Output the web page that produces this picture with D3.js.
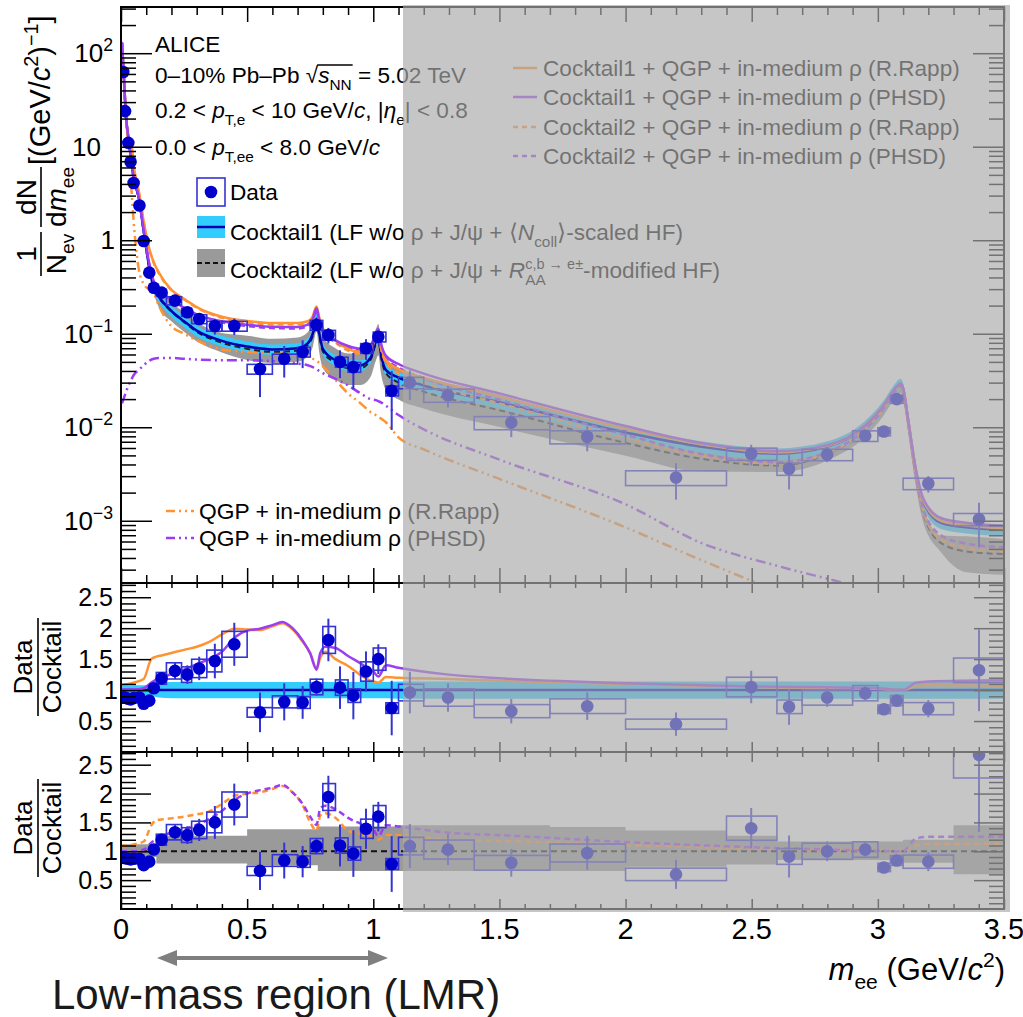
<!DOCTYPE html>
<html>
<head>
<meta charset="utf-8">
<script src="https://cdn.jsdelivr.net/npm/d3@7"></script>
<style>
  body { margin: 0; background: #fff; }
  svg { display: block; font-family: "Liberation Sans", Arial, Helvetica, sans-serif; }
</style>
</head>
<body>
<svg id="chart" width="1023" height="1017"></svg>
<script>
// ---- measured points (mass bins in GeV/c^2) ----
var binEdges = [0, 0.01, 0.02, 0.03, 0.04, 0.06, 0.08, 0.1, 0.12, 0.14, 0.18, 0.24, 0.28, 0.34, 0.4, 0.5, 0.6, 0.7, 0.75, 0.8,
  0.85, 0.9, 0.95, 1.0, 1.05, 1.1, 1.2, 1.4, 1.7, 2.0, 2.4, 2.6, 2.7, 2.9, 3.0, 3.05, 3.1, 3.3, 3.5];
var dataMass = [0.009, 0.016, 0.029, 0.038, 0.05, 0.073, 0.09, 0.112, 0.13, 0.161, 0.214, 0.263, 0.31, 0.372, 0.449, 0.551,
  0.647, 0.72, 0.775, 0.822, 0.868, 0.921, 0.971, 1.02, 1.073, 1.145, 1.296, 1.547, 1.848, 2.2, 2.498, 2.648, 2.799, 2.95,
  3.024, 3.075, 3.2, 3.401];
var dataYield = [63, 24, 11, 6.9, 4.1, 2.35, 0.98, 0.45, 0.31, 0.275, 0.226, 0.17, 0.144, 0.121, 0.121, 0.042, 0.054, 0.064,
  0.124, 0.097, 0.05, 0.044, 0.07, 0.093, 0.0246, 0.03, 0.022, 0.0112, 0.0079, 0.0029, 0.0052, 0.0036, 0.0051, 0.0081,
  0.009, 0.02, 0.0025, 0.00104];
var ratioCocktail1 = [0.88, 0.88, 0.86, 0.85, 0.87, 0.88, 0.78, 0.83, 1.03, 1.19, 1.31, 1.25, 1.35, 1.47, 1.74, 0.64, 0.81,
  0.80, 1.05, 1.81, 1.04, 0.91, 1.30, 1.50, 0.71, 0.96, 0.88, 0.66, 0.74, 0.45, 1.05, 0.73, 0.88, 0.95, 0.69, 0.83, 0.70, 1.32];
var ratioCocktail2 = [0.89, 0.88, 0.87, 0.86, 0.87, 0.87, 0.76, 0.82, 1.03, 1.2, 1.33, 1.28, 1.37, 1.5, 1.81, 0.66, 0.84,
  0.82, 1.09, 1.94, 1.10, 0.96, 1.39, 1.60, 0.78, 1.09, 1.03, 0.80, 0.97, 0.60, 1.40, 0.91, 1.0, 1.03, 0.72, 0.84, 0.82, 2.67];
var statRel = [0.02, 0.02, 0.02, 0.02, 0.02, 0.03, 0.04, 0.05, 0.06, 0.08, 0.1, 0.12, 0.14, 0.19, 0.2, 0.5, 0.37, 0.33, 0.13,
  0.19, 0.33, 0.42, 0.25, 0.16, 0.62, 0.35, 0.26, 0.3, 0.3, 0.42, 0.25, 0.4, 0.17, 0.12, 0.06, 0.05, 0.2, 0.5];
var sysRel = [0.04, 0.04, 0.04, 0.04, 0.04, 0.05, 0.05, 0.06, 0.07, 0.08, 0.1, 0.1, 0.11, 0.12, 0.12, 0.12, 0.12, 0.12, 0.12,
  0.12, 0.12, 0.12, 0.12, 0.12, 0.12, 0.14, 0.16, 0.16, 0.16, 0.18, 0.15, 0.15, 0.14, 0.13, 0.1, 0.1, 0.14, 0.15];

// ---- cocktail and model curves (top panel) ----
var curveMass = [0.004, 0.01, 0.02, 0.03, 0.04, 0.05, 0.07, 0.09, 0.11, 0.13, 0.15, 0.2, 0.25, 0.3, 0.4, 0.5, 0.6, 0.7, 0.74,
  0.76, 0.775, 0.785, 0.8, 0.85, 0.9, 0.95, 0.99, 1.01, 1.02, 1.03, 1.05, 1.1, 1.2, 1.5, 2.0, 2.3, 2.6, 2.8, 2.95, 3.02,
  3.06, 3.09, 3.1, 3.12, 3.15, 3.18, 3.25, 3.35, 3.5];
var cocktail1 = [130, 65, 21, 12, 7.3, 4.7, 2.9, 1.25, 0.55, 0.31, 0.25, 0.175, 0.136, 0.108, 0.084, 0.073, 0.068, 0.07,
  0.079, 0.1, 0.145, 0.104, 0.069, 0.052, 0.046, 0.046, 0.056, 0.082, 0.094, 0.062, 0.041, 0.034, 0.028, 0.0185, 0.0088,
  0.0062, 0.0052, 0.0062, 0.0103, 0.0165, 0.024, 0.029, 0.026, 0.012, 0.0035, 0.0016, 0.00095, 0.00085, 0.0008];
var cocktail1Err = [0.08, 0.08, 0.08, 0.08, 0.08, 0.08, 0.08, 0.08, 0.09, 0.1, 0.12, 0.13, 0.13, 0.13, 0.13, 0.13, 0.13,
  0.13, 0.13, 0.13, 0.13, 0.13, 0.13, 0.13, 0.13, 0.13, 0.13, 0.13, 0.13, 0.13, 0.13, 0.14, 0.14, 0.14, 0.14, 0.14, 0.14,
  0.14, 0.14, 0.14, 0.14, 0.14, 0.14, 0.14, 0.14, 0.14, 0.14, 0.14, 0.14];
var cocktail2 = [127, 64, 20.6, 11.8, 7.1, 4.6, 2.83, 1.22, 0.535, 0.30, 0.243, 0.172, 0.133, 0.105, 0.080, 0.069, 0.064,
  0.066, 0.075, 0.095, 0.139, 0.099, 0.065, 0.049, 0.043, 0.043, 0.053, 0.078, 0.089, 0.058, 0.038, 0.030, 0.024, 0.0152,
  0.0068, 0.0046, 0.0039, 0.0052, 0.0093, 0.0153, 0.0225, 0.0275, 0.0245, 0.011, 0.003, 0.0012, 0.00058, 0.00047, 0.00044];
var qgpRapp = [null, null, null, null, 4.0, 1.6, 0.5, 0.34, 0.3, 0.27, 0.2, 0.12, 0.1, 0.085, 0.068, 0.064, 0.062, 0.06,
  0.057, 0.054, 0.051, 0.049, 0.045, 0.032, 0.023, 0.018, 0.0145, 0.0135, 0.013, 0.0124, 0.0113, 0.0078, 0.0058, 0.0028,
  0.00085, 0.00038, 0.00018, 0.00012, 0.00009, 0.00008, 0.00007, 0.00007, 0.00007, 0.00007, 0.00006, 0.00006, 0.00005,
  0.00004, 0.00003];
var qgpPhsd = [0.018, 0.02, 0.024, 0.028, 0.032, 0.036, 0.041, 0.046, 0.051, 0.054, 0.055, 0.055, 0.054, 0.053, 0.052,
  0.052, 0.051, 0.048, 0.046, 0.044, 0.042, 0.04, 0.038, 0.033, 0.028, 0.023, 0.02, 0.0195, 0.019, 0.0185, 0.017, 0.0135,
  0.0095, 0.0045, 0.0015, 0.00058, 0.00033, 0.00024, 0.00019, 0.00017, 0.00016, 0.00015, 0.00015, 0.00015, 0.00014,
  0.00013, 0.00012, 0.0001, 0.00008];
// cocktail2 uncertainty (relative), given per mass interval
var band2Edges = [0, 0.14, 0.5, 0.78, 1.1, 1.7, 2.0, 2.4, 2.6, 3.1, 3.3, 3.5];
var band2Lo = [0.9, 0.79, 0.76, 0.66, 0.66, 0.66, 0.73, 0.77, 0.85, 0.8, 0.6];
var band2Hi = [1.12, 1.27, 1.38, 1.43, 1.45, 1.42, 1.36, 1.27, 1.17, 1.2, 1.45];

// ---- model / cocktail ratios ----
var ratioMass = [0, 0.05, 0.09, 0.12, 0.14, 0.16, 0.2, 0.25, 0.3, 0.35, 0.4, 0.45, 0.5, 0.55, 0.6, 0.64, 0.68, 0.72, 0.75,
  0.775, 0.79, 0.81, 0.85, 0.9, 0.95, 0.98, 1.0, 1.02, 1.05, 1.1, 1.3, 1.5, 2.0, 2.5, 3.0, 3.1, 3.15, 3.2, 3.5];
var ratio1Rapp = [1.08, 1.12, 1.18, 1.5, 1.54, 1.56, 1.6, 1.65, 1.7, 1.78, 1.9, 1.99, 1.98, 1.97, 2.03, 2.08, 1.98, 1.78,
  1.6, 1.35, 1.52, 1.62, 1.5, 1.39, 1.24, 1.17, 1.14, 1.12, 1.21, 1.2, 1.18, 1.15, 1.1, 1.05, 1.02, 1.0, 1.06, 1.08, 1.07];
var ratio1Phsd = [1.01, 1.01, 1.03, 1.12, 1.17, 1.2, 1.26, 1.33, 1.42, 1.5, 1.62, 1.85, 1.96, 1.99, 2.05, 2.1, 2.0, 1.8,
  1.59, 1.33, 1.6, 1.7, 1.68, 1.55, 1.43, 1.35, 1.3, 1.22, 1.4, 1.36, 1.25, 1.19, 1.11, 1.06, 1.03, 1.0, 1.12, 1.14, 1.16];
var ratio2Rapp = [1.09, 1.12, 1.17, 1.45, 1.54, 1.55, 1.57, 1.6, 1.64, 1.69, 1.82, 1.96, 2.0, 2.02, 2.08, 2.13, 2.02, 1.8,
  1.5, 1.36, 1.62, 1.66, 1.58, 1.36, 1.3, 1.28, 1.25, 1.2, 1.28, 1.28, 1.2, 1.18, 1.11, 1.05, 1.02, 1.01, 1.1, 1.13, 1.13];
var ratio2Phsd = [1.0, 1.0, 1.03, 1.15, 1.21, 1.26, 1.32, 1.38, 1.46, 1.56, 1.7, 1.89, 2.0, 2.06, 2.1, 2.15, 2.02, 1.82,
  1.6, 1.46, 1.75, 1.79, 1.73, 1.58, 1.48, 1.44, 1.38, 1.26, 1.45, 1.43, 1.32, 1.28, 1.16, 1.07, 1.01, 1.0, 1.22, 1.25, 1.25];

// ---- axis tick labels ----
var xTickLabels = ['0', '0.5', '1', '1.5', '2', '2.5', '3', '3.5'];
var ratioTickLabels = ['0.5', '1', '1.5', '2', '2.5'];
var logExponents = [-3, -2, -1, 0, 1, 2];

var col = {
  data: '#0000cd', box: '#3434d4', blue: '#0000b0', cyan: '#33ccff', gray: '#9a9a9a',
  orange: '#ff9233', purple: '#9b3df2'
};
var X0 = 121, X1 = 1004;
var svg = d3.select('#chart');

var x = d3.scaleLinear().domain([0, 3.5]).range([X0, X1]);
var yTop = d3.scaleLog().domain([2.16e-4, 312]).range([583, 7]);
var yR1 = d3.scaleLinear().domain([0, 2.73]).range([752, 583]);
var yR2 = d3.scaleLinear().domain([0, 2.72]).range([909, 752]);

var defs = svg.append('defs');
function clip(id, y) {
  defs.append('clipPath').attr('id', id).append('rect')
    .attr('x', X0).attr('y', y.range()[1]).attr('width', X1 - X0).attr('height', y.range()[0] - y.range()[1]);
}
clip('cTop', yTop); clip('cR1', yR1); clip('cR2', yR2);

// rich text helper: parts are strings or {t, i, sub, sup}
function rich(sel, px, py, size, parts, anchor, fill) {
  var t = sel.append('text').attr('x', px).attr('y', py).attr('font-size', size)
    .attr('text-anchor', anchor || 'start').attr('fill', fill || '#000');
  var cur = 0, spans = [];
  parts.forEach(function(p) {
    var o = typeof p === 'string' ? {t: p} : p;
    var off = 0, fs = size;
    if (o.sub) { off = size * 0.3; fs = size * 0.68; }
    if (o.sup) { off = -size * 0.42; fs = size * 0.68; }
    var ts = t.append('tspan').attr('dy', off - cur).attr('font-size', fs).text(o.t);
    if (o.i) ts.attr('font-style', 'italic');
    cur = off;
    spans.push(ts);
  });
  return spans;
}

function pts(xs, ys) { return xs.map(function(m, i) { return [m, ys[i]]; }); }
function bandAt(m) {
  return Math.min(band2Lo.length - 1, Math.max(0, d3.bisectRight(band2Edges, m) - 1));
}

// ================= top panel =================
var gTop = svg.append('g').attr('clip-path', 'url(#cTop)');
var areaTop = d3.area().x(function(d) { return x(d[0]); })
  .y0(function(d) { return yTop(d[1]); }).y1(function(d) { return yTop(d[2]); }).curve(d3.curveMonotoneX);
var lineTop = d3.line().defined(function(d) { return d[1] != null && d[1] > 0; })
  .x(function(d) { return x(d[0]); }).y(function(d) { return yTop(d[1]); }).curve(d3.curveMonotoneX);

gTop.append('path')
  .attr('d', areaTop(curveMass.map(function(m, i) {
    var k = bandAt(m);
    return [m, cocktail2[i] * band2Lo[k], cocktail2[i] * band2Hi[k]];
  })))
  .attr('fill', col.gray);
gTop.append('path')
  .attr('d', areaTop(curveMass.map(function(m, i) {
    return [m, cocktail1[i] * (1 - cocktail1Err[i]), cocktail1[i] * (1 + cocktail1Err[i])];
  })))
  .attr('fill', col.cyan);

function sumWith(base, add) {
  return base.map(function(v, i) { return v + (add[i] || 0); });
}
var topLines = [
  {v: qgpRapp, c: col.orange, dash: '10,4,2,4,2,4'},
  {v: qgpPhsd, c: col.purple, dash: '10,4,2,4,2,4'},
  {v: cocktail2, c: '#222', dash: '6,4', w: 2},
  {v: cocktail1, c: col.blue},
  {v: sumWith(cocktail2, qgpRapp), c: col.orange, dash: '6,4'},
  {v: sumWith(cocktail2, qgpPhsd), c: col.purple, dash: '6,4'},
  {v: sumWith(cocktail1, qgpRapp), c: col.orange},
  {v: sumWith(cocktail1, qgpPhsd), c: col.purple}
];
topLines.forEach(function(l) {
  gTop.append('path').attr('d', lineTop(pts(curveMass, l.v)))
    .attr('fill', 'none').attr('stroke', l.c).attr('stroke-width', l.w || 2.5)
    .attr('stroke-dasharray', l.dash || null);
});

function drawData(g, y, vals) {
  var lo = y.domain()[0];
  var boxes = g.append('g'), bars = g.append('g'), dots = g.append('g');
  vals.forEach(function(v, i) {
    var s = sysRel[i], e = statRel[i];
    boxes.append('rect')
      .attr('x', x(binEdges[i])).attr('width', x(binEdges[i + 1]) - x(binEdges[i]))
      .attr('y', y(v * (1 + s))).attr('height', y(v * (1 - s)) - y(v * (1 + s)))
      .attr('fill', 'none').attr('stroke', col.box).attr('stroke-width', 1.6);
    bars.append('line')
      .attr('x1', x(dataMass[i])).attr('x2', x(dataMass[i]))
      .attr('y1', y(v * (1 + e))).attr('y2', y(Math.max(v * (1 - e), lo > 0 ? lo : 0)))
      .attr('stroke', col.box).attr('stroke-width', 2);
  });
  dots.selectAll('circle').data(vals).join('circle')
    .attr('cx', function(d, i) { return x(dataMass[i]); })
    .attr('cy', function(d) { return y(d); })
    .attr('r', 6.3).attr('fill', col.data);
}
drawData(svg.append('g').attr('clip-path', 'url(#cTop)').append('g'), yTop, dataYield);

// ================= ratio panel 1 =================
var gR1 = svg.append('g').attr('clip-path', 'url(#cR1)');
var areaR1 = d3.area().x(function(d) { return x(d[0]); })
  .y0(function(d) { return yR1(d[1]); }).y1(function(d) { return yR1(d[2]); }).curve(d3.curveMonotoneX);
gR1.append('path')
  .attr('d', areaR1(curveMass.map(function(m, i) { return [m, 1 - cocktail1Err[i], 1 + cocktail1Err[i]]; })))
  .attr('fill', col.cyan);
gR1.append('line').attr('x1', x(0)).attr('x2', x(3.5)).attr('y1', yR1(1)).attr('y2', yR1(1))
  .attr('stroke', col.blue).attr('stroke-width', 2.5);
var lineR1 = d3.line().x(function(d) { return x(d[0]); }).y(function(d) { return yR1(d[1]); }).curve(d3.curveMonotoneX);
[[ratio1Rapp, col.orange], [ratio1Phsd, col.purple]].forEach(function(r) {
  gR1.append('path').attr('d', lineR1(pts(ratioMass, r[0])))
    .attr('fill', 'none').attr('stroke', r[1]).attr('stroke-width', 2.5);
});
drawData(gR1, yR1, ratioCocktail1);

// ================= ratio panel 2 =================
var gR2 = svg.append('g').attr('clip-path', 'url(#cR2)');
var areaR2 = d3.area().x(function(d) { return x(d[0]); })
  .y0(function(d) { return yR2(d[1]); }).y1(function(d) { return yR2(d[2]); }).curve(d3.curveStepAfter);
gR2.append('path')
  .attr('d', areaR2(band2Edges.map(function(m, i) {
    var k = Math.min(i, band2Lo.length - 1);
    return [m, band2Lo[k], band2Hi[k]];
  })))
  .attr('fill', col.gray);
gR2.append('line').attr('x1', x(0)).attr('x2', x(3.5)).attr('y1', yR2(1)).attr('y2', yR2(1))
  .attr('stroke', '#111').attr('stroke-width', 2).attr('stroke-dasharray', '6,4');
var lineR2 = d3.line().x(function(d) { return x(d[0]); }).y(function(d) { return yR2(d[1]); }).curve(d3.curveMonotoneX);
[[ratio2Rapp, col.orange], [ratio2Phsd, col.purple]].forEach(function(r) {
  gR2.append('path').attr('d', lineR2(pts(ratioMass, r[0])))
    .attr('fill', 'none').attr('stroke', r[1]).attr('stroke-width', 2.5).attr('stroke-dasharray', '6,4');
});
drawData(gR2, yR2, ratioCocktail2);

// ================= frames and ticks =================
var xMajor = d3.range(8).map(function(i) { return i * 0.5; });
var xMinor = d3.range(36).filter(function(i) { return i % 5 !== 0; }).map(function(i) { return i / 10; });

function styleAxis(g) {
  g.select('.domain').remove();
  g.selectAll('line').attr('stroke', '#000').attr('stroke-width', 1.5);
}
function frame(y, yMaj, yMin, yMajLen, yMinLen, xMajLen, xMinLen) {
  var top = y.range()[1], bot = y.range()[0];
  var g = svg.append('g');
  [[d3.axisLeft, X0], [d3.axisRight, X1]].forEach(function(a) {
    g.append('g').attr('transform', 'translate(' + a[1] + ',0)')
      .call(a[0](y).tickValues(yMaj).tickSize(-yMajLen).tickFormat('')).call(styleAxis);
    g.append('g').attr('transform', 'translate(' + a[1] + ',0)')
      .call(a[0](y).tickValues(yMin).tickSize(-yMinLen).tickFormat('')).call(styleAxis);
  });
  [[d3.axisBottom, bot], [d3.axisTop, top]].forEach(function(a) {
    g.append('g').attr('transform', 'translate(0,' + a[1] + ')')
      .call(a[0](x).tickValues(xMajor).tickSize(-xMajLen).tickFormat('')).call(styleAxis);
    g.append('g').attr('transform', 'translate(0,' + a[1] + ')')
      .call(a[0](x).tickValues(xMinor).tickSize(-xMinLen).tickFormat('')).call(styleAxis);
  });
  g.append('rect').attr('x', X0).attr('y', top).attr('width', X1 - X0).attr('height', bot - top)
    .attr('fill', 'none').attr('stroke', '#000').attr('stroke-width', 2);
}
var logMajor = logExponents.map(function(e) { return Math.pow(10, e); });
var logMinor = [];
d3.range(-4, 3).forEach(function(e) {
  d3.range(2, 10).forEach(function(k) {
    var v = k * Math.pow(10, e);
    if (v > yTop.domain()[0] && v < yTop.domain()[1]) logMinor.push(v);
  });
});
frame(yTop, logMajor, logMinor, 31, 15, 15, 8);
var rMajor = ratioTickLabels.map(Number);
var rMinor = d3.range(1, 28).filter(function(i) { return i % 5 !== 0; }).map(function(i) { return i / 10; });
frame(yR1, rMajor, rMinor, 30, 15, 10, 5);
frame(yR2, rMajor, rMinor, 30, 15, 10, 5);

// y tick labels (ROOT places the integer labels a little apart from the power labels)
logExponents.forEach(function(e) {
  var yy = yTop(Math.pow(10, e)) + 9;
  if (e === 0) rich(svg, 115, yy, 26, ['1'], 'end');
  else if (e === 1) rich(svg, 101, yy, 26, ['10'], 'end');
  else rich(svg, 113, yy, 26, ['10', {t: e < 0 ? '\u2212' + (-e) : String(e), sup: true}], 'end');
});
ratioTickLabels.forEach(function(lbl) {
  var xr = lbl === '1' ? 118 : 113;
  rich(svg, xr, yR1(+lbl) + 9, 25, [lbl], 'end');
  rich(svg, xr, yR2(+lbl) + 9, 25, [lbl], 'end');
});

// y titles
var gy = svg.append('g').attr('transform', 'translate(41,0) rotate(-90)');
rich(gy, -254, -5, 28, ['1'], 'middle');
gy.append('line').attr('x1', -276).attr('x2', -232).attr('y1', 0).attr('y2', 0).attr('stroke', '#000').attr('stroke-width', 1.6);
rich(gy, -254, 25, 28, ['N', {t: 'ev', sub: true}], 'middle');
rich(gy, -197, -5, 28, ['dN'], 'middle');
gy.append('line').attr('x1', -227).attr('x2', -167).attr('y1', 0).attr('y2', 0).attr('stroke', '#000').attr('stroke-width', 1.6);
rich(gy, -197, 25, 28, ['d', {t: 'm', i: true}, {t: 'ee', sub: true}], 'middle');
rich(gy, -165, 9, 29, ['[(GeV/', {t: 'c', i: true}, {t: '2', sup: true}, ')', {t: '\u22121', sup: true}, ']']);

[yR1, yR2].forEach(function(y, k) {
  var cy = k === 0 ? 667 : 828;
  var g = svg.append('g').attr('transform', 'translate(38,' + cy + ') rotate(-90)');
  rich(g, 0, -6, 26, ['Data'], 'middle');
  g.append('line').attr('x1', -49).attr('x2', 49).attr('y1', 0).attr('y2', 0).attr('stroke', '#000').attr('stroke-width', 1.6);
  rich(g, 0, 23, 26, ['Cocktail'], 'middle');
});

// ================= annotations and legends =================
var fsL = 22.6;
rich(svg, 155, 52, fsL, ['ALICE']);
var l2 = rich(svg, 155, 83, fsL, ['0\u201310% Pb\u2013Pb ', '\u221A', {t: 's', i: true}, {t: 'NN', sub: true}, ' = 5.02 TeV']);
(function() {
  var s = l2[2].node(), nn = l2[3].node();
  var a = s.getStartPositionOfChar(0).x, b = nn.getEndPositionOfChar(nn.getNumberOfChars() - 1).x;
  svg.append('line').attr('x1', a - 1).attr('x2', b + 1).attr('y1', 83 - 18).attr('y2', 83 - 18)
    .attr('stroke', '#000').attr('stroke-width', 1.3);
})();
rich(svg, 155, 118, fsL, ['0.2 < ', {t: 'p', i: true}, {t: 'T,e', sub: true}, ' < 10 GeV/', {t: 'c', i: true}, ', |',
  {t: '\u03B7', i: true}, {t: 'e', sub: true}, '| < 0.8']);
rich(svg, 155, 155, fsL, ['0.0 < ', {t: 'p', i: true}, {t: 'T,ee', sub: true}, ' < 8.0 GeV/', {t: 'c', i: true}]);

// legend: data / cocktails
svg.append('rect').attr('x', 197).attr('y', 178).attr('width', 28).attr('height', 28)
  .attr('fill', 'none').attr('stroke', col.box).attr('stroke-width', 1.6);
svg.append('circle').attr('cx', 211).attr('cy', 192).attr('r', 6.3).attr('fill', col.data);
rich(svg, 230, 200, fsL, ['Data']);
svg.append('rect').attr('x', 197).attr('y', 216).attr('width', 28).attr('height', 22).attr('fill', col.cyan);
svg.append('line').attr('x1', 197).attr('x2', 225).attr('y1', 227).attr('y2', 227).attr('stroke', col.blue).attr('stroke-width', 2.5);
rich(svg, 230, 240, fsL, ['Cocktail1 (LF w/o \u03C1 + J/\u03C8 + \u27E8', {t: 'N', i: true}, {t: 'coll', sub: true},
  '\u27E9-scaled HF)']);
svg.append('rect').attr('x', 197).attr('y', 249).attr('width', 28).attr('height', 28).attr('fill', col.gray);
svg.append('line').attr('x1', 197).attr('x2', 225).attr('y1', 263).attr('y2', 263).attr('stroke', '#111')
  .attr('stroke-width', 2).attr('stroke-dasharray', '5,3');
var c2 = rich(svg, 230, 278, fsL, ['Cocktail2 (LF w/o \u03C1 + J/\u03C8 + ', {t: 'R', i: true}, {t: 'AA', sub: true},
  {t: 'c,b \u2192 e\u00B1', sup: true}, '-modified HF)']);
(function() {
  var w = c2[2].node().getComputedTextLength();
  c2[3].attr('dx', -w).attr('font-size', 14.5);
  c2[4].attr('dx', Math.max(0, w - c2[3].node().getComputedTextLength()));
})();

// legend: model sums (top right)
var rightLegend = [
  {label: 'Cocktail1 + QGP + in-medium \u03C1 (R.Rapp)', c: col.orange, dash: null},
  {label: 'Cocktail1 + QGP + in-medium \u03C1 (PHSD)', c: col.purple, dash: null},
  {label: 'Cocktail2 + QGP + in-medium \u03C1 (R.Rapp)', c: col.orange, dash: '5,4'},
  {label: 'Cocktail2 + QGP + in-medium \u03C1 (PHSD)', c: col.purple, dash: '5,4'}
];
var rlY = [68, 97, 127, 156];
rightLegend.forEach(function(d, i) {
  svg.append('line').attr('x1', 513).attr('x2', 537).attr('y1', rlY[i]).attr('y2', rlY[i])
    .attr('stroke', d.c).attr('stroke-width', 2.5).attr('stroke-dasharray', d.dash);
  rich(svg, 543, rlY[i] + 8, fsL, [d.label]);
});

// legend: QGP only (bottom left)
var blLegend = [
  {label: 'QGP + in-medium \u03C1 (R.Rapp)', c: col.orange},
  {label: 'QGP + in-medium \u03C1 (PHSD)', c: col.purple}
];
var blY = [511, 538];
blLegend.forEach(function(d, i) {
  svg.append('line').attr('x1', 166).attr('x2', 194).attr('y1', blY[i]).attr('y2', blY[i])
    .attr('stroke', d.c).attr('stroke-width', 2.5).attr('stroke-dasharray', '9,4,2,4,2,4');
  rich(svg, 199, blY[i] + 8, 22.8, [d.label]);
});

// ================= shaded (non-LMR) region =================
svg.append('rect').attr('x', 403).attr('y', 5).attr('width', 607).attr('height', 907)
  .attr('fill', 'rgb(170,170,170)').attr('fill-opacity', 0.67);

// ================= x axis labels and title =================
xTickLabels.forEach(function(lbl) {
  rich(svg, x(+lbl), 939, 29, [lbl], 'middle');
});
rich(svg, 1005, 980, 31, [{t: 'm', i: true}, {t: 'ee', sub: true}, ' (GeV/', {t: 'c', i: true}, {t: '2', sup: true}, ')'], 'end');

// LMR arrow
var arrowY = 958, ax0 = 157, ax1 = 388;
svg.append('line').attr('x1', ax0 + 16).attr('x2', ax1 - 16).attr('y1', arrowY).attr('y2', arrowY)
  .attr('stroke', '#7f7f7f').attr('stroke-width', 4);
svg.append('path').attr('d', 'M' + ax0 + ',' + arrowY + 'l20,-8v16z').attr('fill', '#7f7f7f');
svg.append('path').attr('d', 'M' + ax1 + ',' + arrowY + 'l-20,-8v16z').attr('fill', '#7f7f7f');
rich(svg, 52, 1009, 42, ['Low-mass region (LMR)'], 'start', '#1a1a1a');
</script>
</body>
</html>
